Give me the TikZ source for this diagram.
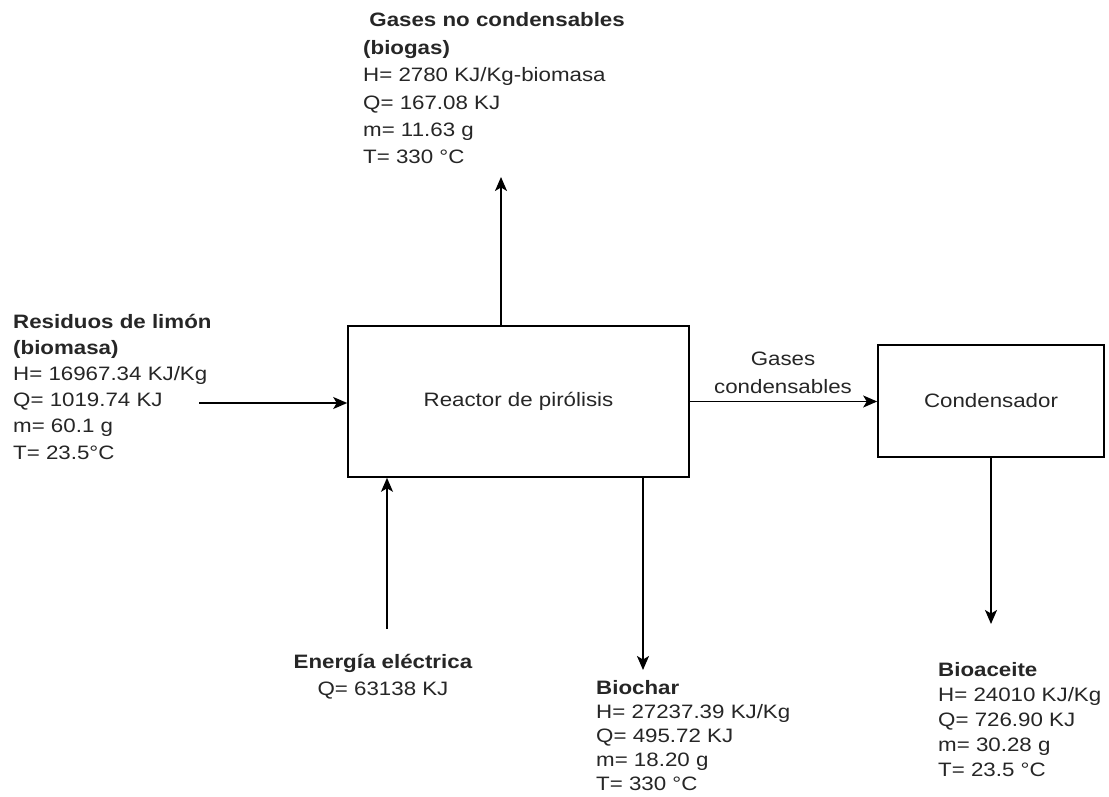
\documentclass[tikz,border=0pt]{standalone}
\usepackage{fontspec}
\setmainfont{Liberation Sans}[FakeStretch=1.15]
\usetikzlibrary{arrows.meta}
\begin{document}
\begin{tikzpicture}[x=1pt,y=-1pt,
  txt/.style={inner sep=0pt, align=left, text=black!85},
  box/.style={draw, line width=1.6pt, inner sep=0pt, fill=white, text=black!85,
    font=\fontsize{19.4}{22}\selectfont},
  flow/.style={draw, line width=1.6pt, -{Stealth[length=14pt,width=12pt,inset=3.5pt]}},
]
\useasboundingbox (0,0) rectangle (1109,797);
\fill[white] (0,0) rectangle (1109,797);

% boxes
\node[box, minimum width=341pt, minimum height=151pt] (reactor) at (518.5,401.5) {Reactor de pirólisis};
\node[box, minimum width=226pt, minimum height=112pt] (cond) at (991,401) {Condensador};

% texts (base anchor = baseline of the last line)
\node[txt, font=\fontsize{19.4}{27.4}\selectfont, anchor=base west] (gnc) at (363,164)
  {\textbf{\ Gases no condensables}\\\textbf{(biogas)}\\H= 2780 KJ/Kg-biomasa\\Q= 167.08 KJ\\m= 11.63 g\\T= 330 °C};
\node[txt, font=\fontsize{19.4}{26.2}\selectfont, anchor=base west] (res) at (13,459)
  {\textbf{Residuos de limón}\\\textbf{(biomasa)}\\H= 16967.34 KJ/Kg\\Q= 1019.74 KJ\\m= 60.1 g\\T= 23.5°C};
\node[txt, align=center, font=\fontsize{19.4}{27}\selectfont, anchor=base] (ene) at (383,695)
  {\textbf{Energía eléctrica}\\Q= 63138 KJ};
\node[txt, font=\fontsize{19.4}{24}\selectfont, anchor=base west] (bch) at (596,790)
  {\textbf{Biochar}\\H= 27237.39 KJ/Kg\\Q= 495.72 KJ\\m= 18.20 g\\T= 330 °C};
\node[txt, font=\fontsize{19.4}{25}\selectfont, anchor=base west] (boil) at (938,776)
  {\textbf{Bioaceite}\\H= 24010 KJ/Kg\\Q= 726.90 KJ\\m= 30.28 g\\T= 23.5 °C};
\node[txt, align=center, font=\fontsize{19.4}{28}\selectfont, anchor=base] (gc) at (783,393)
  {Gases\\condensables};

% connectors
\coordinate (inL) at (199,403);
\coordinate (topE) at (501,177);
\coordinate (eS) at (387,629);
\coordinate (bE) at (643,670);
\coordinate (oE) at (991,624);
\draw[flow] (inL) -- (inL -| reactor.west);
\draw[flow] (topE |- reactor.north) -- (topE);
\draw[flow] (eS) -- (eS |- reactor.south);
\draw[flow] (bE |- reactor.south) -- (bE);
\draw[flow] (reactor.east) -- (reactor.east -| cond.west);
\draw[flow] (cond.south) -- (oE);
\end{tikzpicture}
\end{document}
